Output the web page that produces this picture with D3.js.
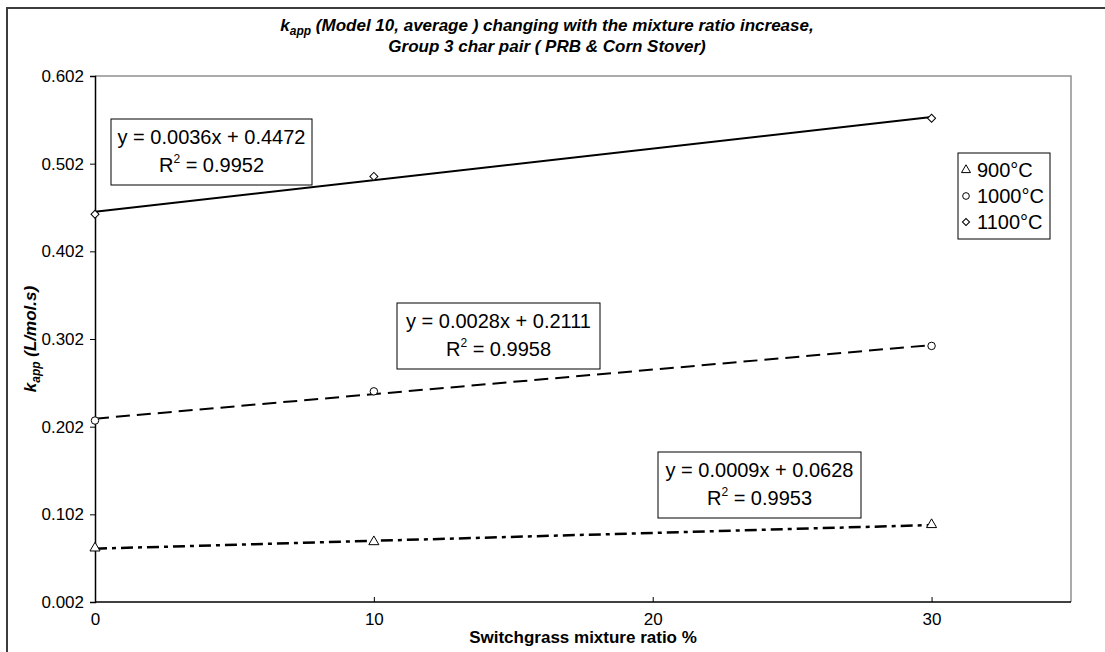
<!DOCTYPE html>
<html>
<head>
<meta charset="utf-8">
<script src="https://cdn.jsdelivr.net/npm/d3@7"></script>
<style>
  body { margin: 0; background: #fff; }
  svg { display: block; font-family: "Liberation Sans", Arial, sans-serif; }
</style>
</head>
<body>
<svg width="1105" height="652"></svg>
<script>
// data
var ratios = [0, 10, 30];
var seriesNames = ["900°C", "1000°C", "1100°C"];
var k900 = [0.0635, 0.0707, 0.0902];
var k1000 = [0.2090, 0.2423, 0.2941];
var k1100 = [0.4443, 0.4875, 0.5538];
var slopes = [0.0009, 0.0028, 0.0036];
var intercepts = [0.0628, 0.2111, 0.4472];
var rSquared = ["0.9953", "0.9958", "0.9952"];
var yTicks = [0.002, 0.102, 0.202, 0.302, 0.402, 0.502, 0.602];
var xTicks = [0, 10, 20, 30];

var width = 1105, height = 652;
var svg = d3.select("svg");

var x = d3.scaleLinear().domain([0, 35]).range([95, 1071]);
var y = d3.scaleLinear().domain([0.002, 0.602]).range([602, 76]);

// outer frame
svg.append("rect")
    .attr("x", 7).attr("y", 8)
    .attr("width", 1110).attr("height", 660)
    .style("fill", "none").style("stroke", "#3c3c3c").style("stroke-width", 2);

// plot border (top & right, gray)
svg.append("path")
    .attr("d", "M" + x(0) + "," + y(0.602) + "H" + x(35) + "V" + y(0.002))
    .style("fill", "none").style("stroke", "#909090").style("stroke-width", 1.5);

// axes
var axisY = d3.axisLeft(y).tickValues(yTicks).tickFormat(d3.format(".3f")).tickSize(5).tickPadding(6);
var gy = svg.append("g").attr("transform", "translate(" + x(0) + ",0)").call(axisY);
var axisX = d3.axisBottom(x).tickValues(xTicks).tickSize(-5).tickPadding(11);
var gx = svg.append("g").attr("transform", "translate(0," + y(0.002) + ")").call(axisX);
[gx, gy].forEach(function(g){
    g.select(".domain").style("stroke", "#000").style("stroke-width", 1.5);
    g.selectAll(".tick line").style("stroke", "#000");
    g.selectAll(".tick text").style("font-size", "17px").style("fill", "#000")
        .style("font-family", "'Liberation Sans', Arial, sans-serif");
});
gx.select(".domain").attr("d", "M" + x(0) + ",0H" + x(35));

// titles
var title = svg.append("text").attr("x", 547).attr("y", 31)
    .attr("text-anchor", "middle")
    .style("font-size", "17px").style("font-weight", "bold").style("font-style", "italic");
title.append("tspan").text("k");
title.append("tspan").attr("dy", 4).style("font-size", "12px").text("app");
title.append("tspan").attr("dy", -4).text(" (Model 10, average ) changing with the mixture ratio increase,");
svg.append("text").attr("x", 547).attr("y", 52)
    .attr("text-anchor", "middle")
    .style("font-size", "17px").style("font-weight", "bold").style("font-style", "italic")
    .text("Group 3 char pair ( PRB & Corn Stover)");

var ylab = svg.append("text")
    .attr("transform", "translate(36," + y(0.302) + ") rotate(-90)")
    .attr("text-anchor", "middle")
    .style("font-size", "17px").style("font-weight", "bold").style("font-style", "italic");
ylab.append("tspan").text("k");
ylab.append("tspan").attr("dy", 4).style("font-size", "12px").text("app");
ylab.append("tspan").attr("dy", -4).text(" (L/mol.s)");

svg.append("text").attr("x", 583).attr("y", 643)
    .attr("text-anchor", "middle")
    .style("font-size", "17px").style("font-weight", "bold")
    .text("Switchgrass mixture ratio %");

// trendlines
var dashes = ["12,5,4,5", "14,7", null];
var widths = [2.5, 2, 2];
seriesNames.forEach(function(name, i){
    svg.append("line")
        .attr("x1", x(0)).attr("y1", y(intercepts[i]))
        .attr("x2", x(30)).attr("y2", y(intercepts[i] + slopes[i] * 30))
        .style("stroke", "#000").style("stroke-width", widths[i])
        .style("stroke-dasharray", dashes[i]);
});

// markers (diamond drawn as a rotated square)
var shapes = [d3.symbolTriangle, d3.symbolCircle, d3.symbolSquare];
var sizes = [44, 44, 32];
var rotations = [0, 0, 45];
var allSeries = [k900, k1000, k1100];
allSeries.forEach(function(vals, i){
    svg.append("g").selectAll("path")
        .data(vals.map(function(v, j){ return {x: ratios[j], y: v}; }))
        .enter()
        .append("path")
        .attr("transform", function(d){
            return "translate(" + x(d.x) + "," + y(d.y) + ") rotate(" + rotations[i] + ")";
        })
        .attr("d", d3.symbol().type(shapes[i]).size(sizes[i]))
        .style("fill", "#fff").style("stroke", "#000").style("stroke-width", 1);
});

// equation boxes
var boxes = [
    {x: 658, y: 452, w: 203, h: 66},
    {x: 397, y: 303, w: 203, h: 66},
    {x: 111, y: 119, w: 201, h: 66}
];
boxes.forEach(function(b, i){
    var g = svg.append("g").attr("transform", "translate(" + b.x + "," + b.y + ")");
    g.append("rect").attr("width", b.w).attr("height", b.h)
        .style("fill", "#fff").style("stroke", "#000").style("stroke-width", 1);
    g.append("text").attr("x", b.w / 2).attr("y", 25).attr("text-anchor", "middle")
        .style("font-size", "20px")
        .text("y = " + slopes[i].toFixed(4) + "x + " + intercepts[i].toFixed(4));
    var t = g.append("text").attr("x", b.w / 2).attr("y", 53).attr("text-anchor", "middle")
        .style("font-size", "20px");
    t.append("tspan").text("R");
    t.append("tspan").attr("dy", -9).style("font-size", "12px").text("2");
    t.append("tspan").attr("dy", 9).text(" = " + rSquared[i]);
});

// legend
var legend = svg.append("g").attr("transform", "translate(958,153)");
legend.append("rect").attr("width", 92).attr("height", 86)
    .style("fill", "#fff").style("stroke", "#000").style("stroke-width", 1);
seriesNames.forEach(function(name, i){
    var row = legend.append("g").attr("transform", "translate(0," + (17 + i * 26) + ")");
    row.append("path").attr("transform", "translate(8,0) rotate(" + rotations[i] + ")")
        .attr("d", d3.symbol().type(shapes[i]).size(sizes[i] * 0.8))
        .style("fill", "#fff").style("stroke", "#000").style("stroke-width", 1);
    row.append("text").attr("x", 19).attr("y", 7).style("font-size", "20px").text(name);
});
</script>
</body>
</html>
